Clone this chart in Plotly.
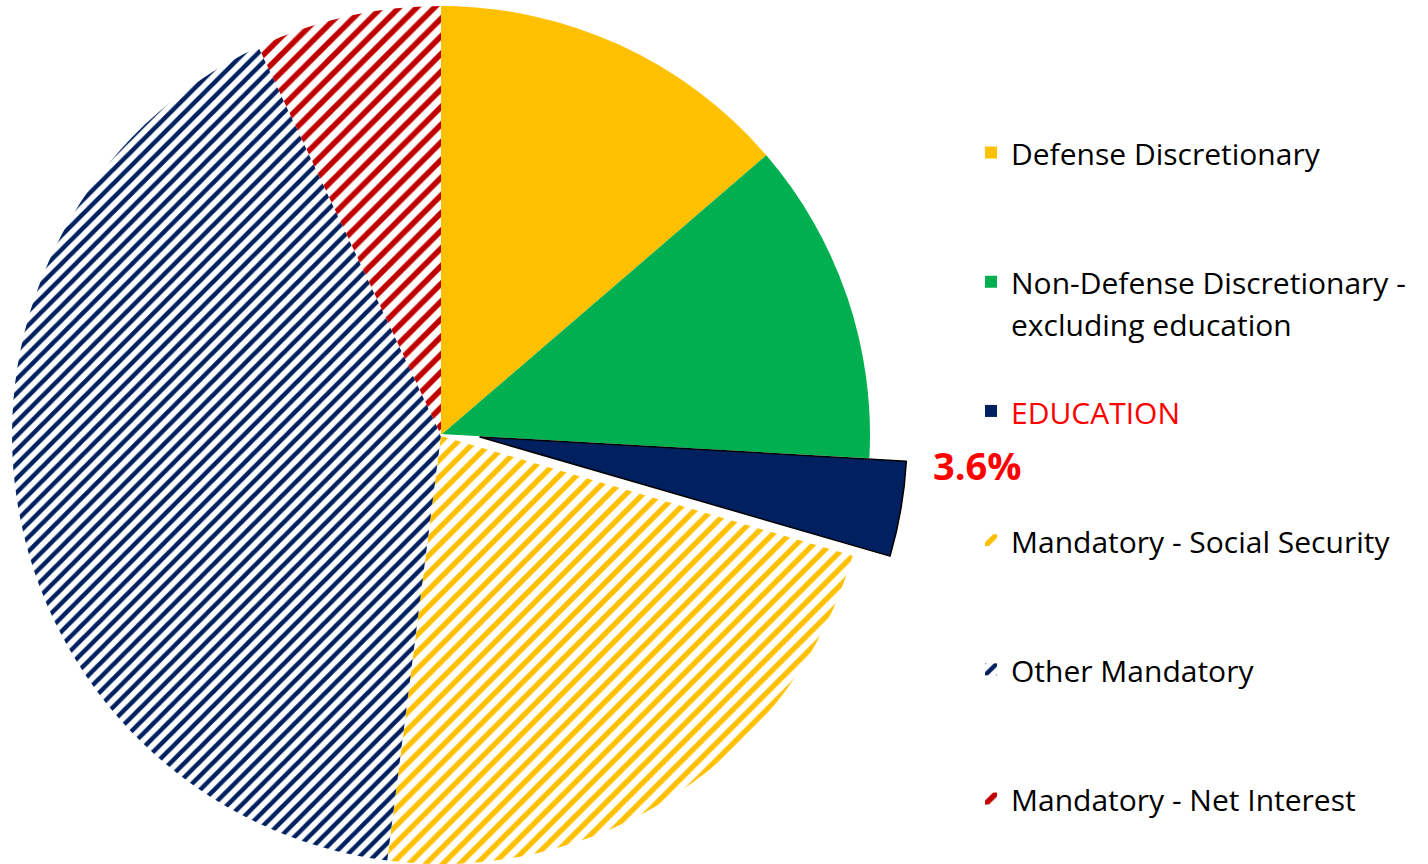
import plotly.graph_objects as go

# ---------------- data ----------------
categories = [
    "Defense Discretionary",
    "Non-Defense Discretionary - excluding education",
    "EDUCATION",
    "Mandatory - Social Security",
    "Other Mandatory",
    "Mandatory - Net Interest",
]
shares = [13.7, 12.2, 3.6, 22.5, 41.0, 7.0]
highlight = "EDUCATION"

# ---------------- styles ----------------
colors = ["#FFC000", "#00B050", "#002060", "#FFC000", "#002060", "#C00000"]
pattern_shapes = ["", "", "", "/", "/", "/"]
pattern_sizes = [8, 8, 8, 12, 10, 12.5]
pattern_solid = [0.3, 0.3, 0.3, 0.45, 0.45, 0.45]

W, H = 1428, 864
FONT = "Open Sans"
TEXT_PX = 30
LEGEND_PX = 32.36  # controls line spacing of legend entries
LINES_PER_ITEM = 3

hl = categories.index(highlight)


def legend_label(name):
    lines = name.replace("- excluding", "-<br>excluding").split("<br>")
    col = "#FF0000" if name == highlight else "#000000"
    body = "<br>".join(
        f'<span style="font-size:{TEXT_PX}px;color:{col}">{ln}</span>' for ln in lines
    )
    return body + "<br>\u00a0" * (LINES_PER_ITEM - len(lines))


labels = [legend_label(c) for c in categories]


def dom_x(cx, r):
    return [(cx - r) / W, (cx + r) / W]


fig = go.Figure()

# main pie (all slices, drives legend)
fig.add_trace(
    go.Pie(
        labels=labels,
        values=shares,
        sort=False,
        direction="clockwise",
        rotation=0,
        textinfo="none",
        hovertext=categories,
        hoverinfo="text+percent",
        marker=dict(
            colors=colors,
            line=dict(width=0),
            pattern=dict(
                shape=pattern_shapes,
                fgcolor=colors,
                bgcolor="white",
                size=pattern_sizes,
                solidity=pattern_solid,
                fillmode="replace",
            ),
        ),
        domain=dict(x=dom_x(441, 429), y=[0, 858 / H]),
        showlegend=True,
    )
)

# white mask over the original position of the highlighted slice
mask_colors = ["rgba(0,0,0,0)"] * len(shares)
mask_colors[hl] = "white"
mask_lw = [0] * len(shares)
mask_lw[hl] = 2
mask_lc = ["rgba(0,0,0,0)"] * len(shares)
mask_lc[hl] = "white"
fig.add_trace(
    go.Pie(
        labels=labels,
        values=shares,
        sort=False,
        direction="clockwise",
        rotation=0,
        textinfo="none",
        hoverinfo="skip",
        marker=dict(colors=mask_colors, line=dict(width=mask_lw, color=mask_lc)),
        domain=dict(x=dom_x(441, 429), y=[0, 858 / H]),
        showlegend=False,
    )
)

# exploded highlighted slice
ex_colors = ["rgba(0,0,0,0)"] * len(shares)
ex_colors[hl] = colors[hl]
ex_lw = [0] * len(shares)
ex_lw[hl] = 1.5
ex_lc = ["rgba(0,0,0,0)"] * len(shares)
ex_lc[hl] = "#000000"
fig.add_trace(
    go.Pie(
        labels=labels,
        values=shares,
        sort=False,
        direction="clockwise",
        rotation=0,
        textinfo="none",
        hovertext=categories,
        hoverinfo="text+percent",
        marker=dict(colors=ex_colors, line=dict(width=ex_lw, color=ex_lc)),
        domain=dict(x=dom_x(480, 427), y=[0, 854 / H]),
        showlegend=False,
    )
)

fig.add_annotation(
    text=f"{shares[hl]:.1f}%",
    x=931 / W,
    y=1 - 465 / H,
    xref="paper",
    yref="paper",
    xanchor="left",
    yanchor="middle",
    showarrow=False,
    font=dict(family=FONT, size=38, color="#FF0000", weight="bold"),
)

fig.update_layout(
    width=W,
    height=H,
    margin=dict(l=0, r=0, t=0, b=0, pad=0, autoexpand=False),
    paper_bgcolor="white",
    plot_bgcolor="white",
    font=dict(family=FONT, color="#000000"),
    legend=dict(
        x=971 / W,
        xanchor="left",
        y=1 - 125 / H,
        yanchor="top",
        valign="top",
        font=dict(family=FONT, size=LEGEND_PX, color="#000000"),
        bgcolor="rgba(0,0,0,0)",
        borderwidth=0,
        traceorder="normal",
    ),
)

fig.write_html("out.html")
